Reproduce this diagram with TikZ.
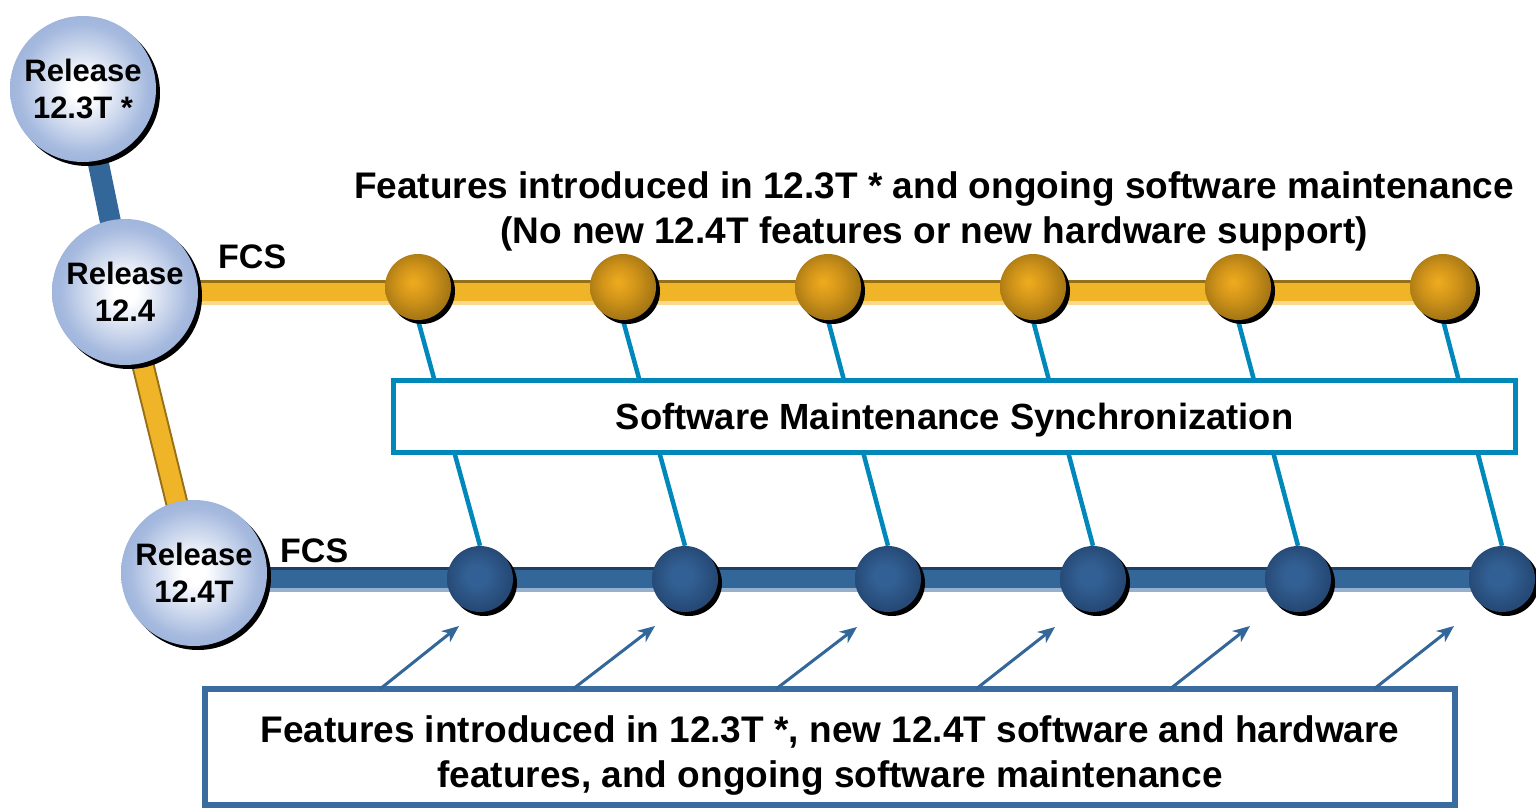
\documentclass[tikz,border=0pt]{standalone}
\usepackage{fontspec}
\setmainfont{Liberation Sans}
\usetikzlibrary{arrows.meta,shadows}
\definecolor{bigedge}{RGB}{116,144,197}
\definecolor{bigmid}{RGB}{166,186,223}
\definecolor{goldc}{RGB}{238,172,30}
\definecolor{goldm}{RGB}{212,150,26}
\definecolor{goldd}{RGB}{146,106,18}
\definecolor{golde}{RGB}{86,64,10}
\definecolor{bluec}{RGB}{50,96,148}
\definecolor{bluem}{RGB}{34,66,108}
\definecolor{bluee}{RGB}{12,26,48}
\definecolor{barblue}{RGB}{51,102,153}
\definecolor{bartop}{RGB}{30,62,100}
\definecolor{barlow}{RGB}{150,176,206}
\definecolor{bargold}{RGB}{240,180,40}
\definecolor{goldtop}{RGB}{150,112,24}
\definecolor{goldlow}{RGB}{248,216,140}
\definecolor{synccyan}{RGB}{0,136,187}
\definecolor{boxblue}{RGB}{58,108,160}
\pgfdeclareradialshading{bigball}{\pgfpoint{0bp}{0bp}}{color(0bp)=(white); color(4bp)=(white); color(22bp)=(bigmid); color(50bp)=(bigedge)}
\pgfdeclareradialshading{goldball}{\pgfpoint{-4bp}{4bp}}{color(0bp)=(goldc); color(12bp)=(goldm); color(32bp)=(goldd); color(50bp)=(golde)}
\pgfdeclareradialshading{blueball}{\pgfpoint{-3bp}{3bp}}{color(0bp)=(bluec); color(8bp)=(bluec); color(30bp)=(bluem); color(50bp)=(bluee)}
\pgfdeclarelayer{bg}
\pgfsetlayers{bg,main}
\tikzset{
  bigc/.style={circle, minimum size=146pt, inner sep=0pt, shade, shading=bigball,
    drop shadow={shadow xshift=4pt, shadow yshift=-4pt, fill=black, opacity=1},
    font=\fontsize{31}{37}\selectfont\bfseries, align=center},
  gball/.style={circle, minimum size=66pt, inner sep=0pt, shade, shading=goldball,
    drop shadow={shadow xshift=4pt, shadow yshift=-4pt, fill=black, opacity=1}},
  bball/.style={circle, minimum size=66pt, inner sep=0pt, shade, shading=blueball,
    drop shadow={shadow xshift=4pt, shadow yshift=-4pt, fill=black, opacity=1}},
  fcslabel/.style={anchor=base west, inner sep=0pt, font=\fontsize{34}{40}\selectfont\bfseries},
  toptext/.style={anchor=north, inner sep=0pt, align=center, font=\fontsize{37}{45}\selectfont\bfseries},
  syncbox/.style={draw=synccyan, line width=5pt, fill=white, minimum width=1122pt, minimum height=72pt,
    inner sep=0pt, text height=26pt, text depth=0pt, font=\fontsize{36.4}{42}\selectfont\bfseries},
  featbox/.style={draw=boxblue, line width=6pt, fill=white, minimum width=1250pt, minimum height=116pt, inner sep=0pt},
  syncline/.style={draw=synccyan, line width=4.5pt},
  featarrow/.style={draw=barblue, line width=3pt, -{Stealth[length=17pt, width=14pt, inset=5pt]}},
}
\begin{document}
\begin{tikzpicture}[x=1pt,y=-1pt]
\useasboundingbox (0,0) rectangle (1536,808);
\clip (0,0) rectangle (1536,808);
\begin{pgfonlayer}{bg}
  \fill[white] (0,0) rectangle (1536,808);
\end{pgfonlayer}

% release circles
\node[bigc] (r123) at (83,89) {Release\\12.3T *};
\node[bigc] (r124) at (125,292) {Release\\12.4};
\node[bigc] (r124T) at (194,573) {Release\\12.4T};

% balls
\foreach \i/\x in {1/418,2/623,3/828,4/1033,5/1238,6/1443}
  \node[gball] (g\i) at (\x,287) {};
\foreach \i/\x in {1/480,2/685,3/888,4/1093,5/1298,6/1502}
  \node[bball] (b\i) at (\x,579) {};

% labels
\node[fcslabel] (fcs1) at (218,268) {FCS};
\node[fcslabel] (fcs2) at (280,562) {FCS};
\node[toptext] (title) at (934,171) {Features introduced in 12.3T * and ongoing software maintenance\\(No new 12.4T features or new hardware support)};

% sync box
\node[syncbox] (sync) at (954.5,416.5) {Software Maintenance Synchronization};

% bottom box
\node[featbox] (fbox) at (830,746.5) {};
\node[toptext] (ftext) at (830,715) {Features introduced in 12.3T *, new 12.4T software and hardware\\features, and ongoing software maintenance};

% arrows
\foreach \i/\sx/\tx/\ty in {1/380/459/626,2/573/655/626,3/776/857/627,4/976/1055/627,5/1170/1250/626,6/1374/1454/626}{
  \coordinate (as\i) at (\sx,689);
  \coordinate (ae\i) at (\tx,\ty);
  \draw[featarrow] (as\i) -- (ae\i);
}

\begin{pgfonlayer}{bg}
  % connectors between releases
  \draw[line width=21pt, barblue] (r123.center) -- (r124.center);
  \draw[line width=23pt, goldtop] (r124.center) -- (r124T.center);
  \draw[line width=19pt, bargold] (r124.center) -- (r124T.center);
  % yellow bar
  \draw[line width=25pt, goldlow] (r124.center) -- (r124.center -| g6.center);
  \draw[line width=3pt, goldtop, transform canvas={yshift=11pt}] (r124.center) -- (r124.center -| g6.center);
  \draw[line width=18pt, bargold, transform canvas={yshift=0.5pt}] (r124.center) -- (r124.center -| g6.center);
  % blue bar
  \draw[line width=25pt, barlow] (r124T.center |- b6.center) -- (b6.center);
  \draw[line width=3pt, bartop, transform canvas={yshift=11pt}] (r124T.center |- b6.center) -- (b6.center);
  \draw[line width=18pt, barblue, transform canvas={yshift=0.5pt}] (r124T.center |- b6.center) -- (b6.center);
  % synchronization lines
  \foreach \i in {1,...,6}
    \draw[syncline] (g\i.south) -- (b\i.north);
\end{pgfonlayer}
\end{tikzpicture}
\end{document}
